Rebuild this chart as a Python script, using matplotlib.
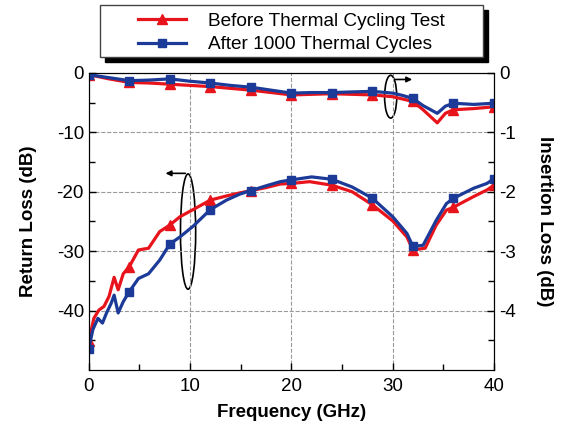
import numpy as np
import matplotlib
matplotlib.use('Agg')
import matplotlib.pyplot as plt
from matplotlib.patches import Ellipse, Rectangle
from matplotlib.lines import Line2D

plt.rcParams['font.family'] = ['Liberation Sans', 'DejaVu Sans']
plt.rcParams['axes.unicode_minus'] = False

# return loss (left axis, dB)
f_rl_before = [0, 0.5, 1.0, 1.5, 2.0, 2.5, 2.9, 3.4, 4, 4.9, 5.9, 7, 8, 9, 10.3, 12, 13.6,
               14.9, 16, 17.5, 18.9, 20, 21.8, 24, 26, 28, 30, 31.4, 32, 33.2, 34.3, 35.3,
               36, 38, 39.3, 40]
rl_before = [-45.2, -41.3, -39.9, -39.3, -37.6, -34.4, -36.5, -33.8, -32.6, -29.8, -29.5,
             -26.7, -25.6, -24.2, -23.0, -21.4, -20.7, -20.2, -19.8, -19.3, -18.7, -18.6,
             -18.3, -18.9, -20.0, -22.2, -24.9, -27.6, -29.8, -29.5, -25.6, -23.1, -22.6,
             -20.8, -19.7, -18.9]

f_rl_after = [0, 0.4, 0.9, 1.35, 1.75, 2.2, 2.5, 2.9, 3.4, 4, 4.9, 5.9, 7, 8, 9, 10.3, 12,
              13.6, 14.9, 16, 17.5, 18.9, 20, 22, 24, 26, 28, 30, 31.4, 32, 33, 34.3, 35.3,
              36, 38, 39.3, 40]
rl_after = [-46.4, -43.2, -41.3, -42.1, -40.4, -38.8, -37.4, -40.4, -38.5, -36.8, -34.6,
            -33.8, -31.5, -28.8, -27.6, -25.8, -23.0, -21.4, -20.4, -19.8, -19.0, -18.3,
            -18.0, -17.5, -17.9, -19.2, -21.1, -24.2, -27.0, -29.2, -29.0, -24.8, -22.0,
            -21.1, -19.4, -18.6, -17.8]

# insertion loss (right axis, dB)
f_il = [0, 2, 4, 6, 8, 10, 12, 14, 16, 18, 20, 22, 24, 26, 28, 30, 31, 32, 33, 34.4,
        35.2, 36, 38, 40]
il_before = [-0.03, -0.10, -0.16, -0.17, -0.19, -0.21, -0.23, -0.26, -0.29, -0.33, -0.37,
             -0.36, -0.35, -0.36, -0.37, -0.40, -0.44, -0.48, -0.62, -0.84, -0.68, -0.62,
             -0.60, -0.57]
il_after = [-0.03, -0.08, -0.13, -0.12, -0.10, -0.14, -0.17, -0.21, -0.24, -0.29, -0.34,
            -0.33, -0.33, -0.32, -0.31, -0.34, -0.38, -0.43, -0.55, -0.68, -0.56, -0.51,
            -0.53, -0.51]

labels = ['Before Thermal Cycling Test', 'After 1000 Thermal Cycles']
red = '#e8141c'
blue = '#1c3a98'


def every4(f):
    return [i for i, v in enumerate(f) if abs(v % 4) < 1e-9]


fig = plt.figure(figsize=(5.62, 4.29), dpi=100)
ax = fig.add_axes([0.158, 0.1375, 0.721, 0.6925])
ax2 = ax.twinx()

lw = 2.3
ax.plot(f_rl_before, rl_before, color=red, lw=lw, marker='^', ms=7,
        markevery=every4(f_rl_before))
ax.plot(f_rl_after, rl_after, color=blue, lw=lw, marker='s', ms=6,
        markevery=every4(f_rl_after))
ax2.plot(f_il, il_before, color=red, lw=lw, marker='^', ms=7, markevery=every4(f_il))
ax2.plot(f_il, il_after, color=blue, lw=lw, marker='s', ms=6, markevery=every4(f_il))

ax.set_xlim(0, 40)
ax.set_ylim(-50, 0)
ax2.set_ylim(-5, 0)
ax.set_xticks([0, 10, 20, 30, 40])
ax.set_xticks([5, 15, 25, 35], minor=True)
ax.set_yticks([0, -10, -20, -30, -40])
ax.set_yticks([-5, -15, -25, -35, -45], minor=True)
ax2.set_yticks([0, -1, -2, -3, -4])
ax2.set_yticks([-0.5, -1.5, -2.5, -3.5, -4.5], minor=True)
ax.grid(True, which='major', ls='--', color='#999999', lw=0.8)
for a in (ax, ax2):
    a.tick_params(which='both', direction='in', labelsize=13.5, length=5, width=1)
    a.tick_params(which='minor', length=4)
ax.tick_params(axis='x', pad=6)

ax.set_xlabel('Frequency (GHz)', fontsize=13.5, fontweight='bold', labelpad=6)
ax.set_ylabel('Return Loss (dB)', fontsize=13.5, fontweight='bold', labelpad=14)
ax2.set_ylabel('Insertion Loss (dB)', fontsize=13.5, fontweight='bold', rotation=270,
               labelpad=27)

# annotations: ellipses with arrows
ax.add_patch(Ellipse((9.8, -26.7), 1.5, 19.4, fill=False, ec='black', lw=1.2))
ax.annotate('', xy=(7.3, -16.9), xytext=(9.8, -16.9),
            arrowprops=dict(arrowstyle='-|>', color='black', lw=1.2, mutation_scale=8))
ax.add_patch(Ellipse((29.8, -4.0), 1.2, 7.2, fill=False, ec='black', lw=1.2))
ax.annotate('', xy=(32.2, -1.1), xytext=(30.0, -1.1),
            arrowprops=dict(arrowstyle='-|>', color='black', lw=1.2, mutation_scale=8))

# legend box with solid shadow
W, H = 562, 429
fig.patches.append(Rectangle((105 / W, 1 - 62 / H), 383 / W, 52 / H, transform=fig.transFigure,
                             fc='black', ec='black', zorder=1))
fig.patches.append(Rectangle((100 / W, 1 - 57 / H), 383 / W, 52 / H, transform=fig.transFigure,
                             fc='white', ec='#444444', lw=1, zorder=2))
handles = [Line2D([], [], color=red, lw=lw, marker='^', ms=7),
           Line2D([], [], color=blue, lw=lw, marker='s', ms=6)]
leg = fig.legend(handles, labels, loc='center left', bbox_to_anchor=(121 / W, 1 - 33 / H),
                 frameon=False, fontsize=13.7, handlelength=2.5, handletextpad=1.15,
                 labelspacing=0.3)
leg.set_zorder(3)

fig.savefig('out.png', dpi=100)
